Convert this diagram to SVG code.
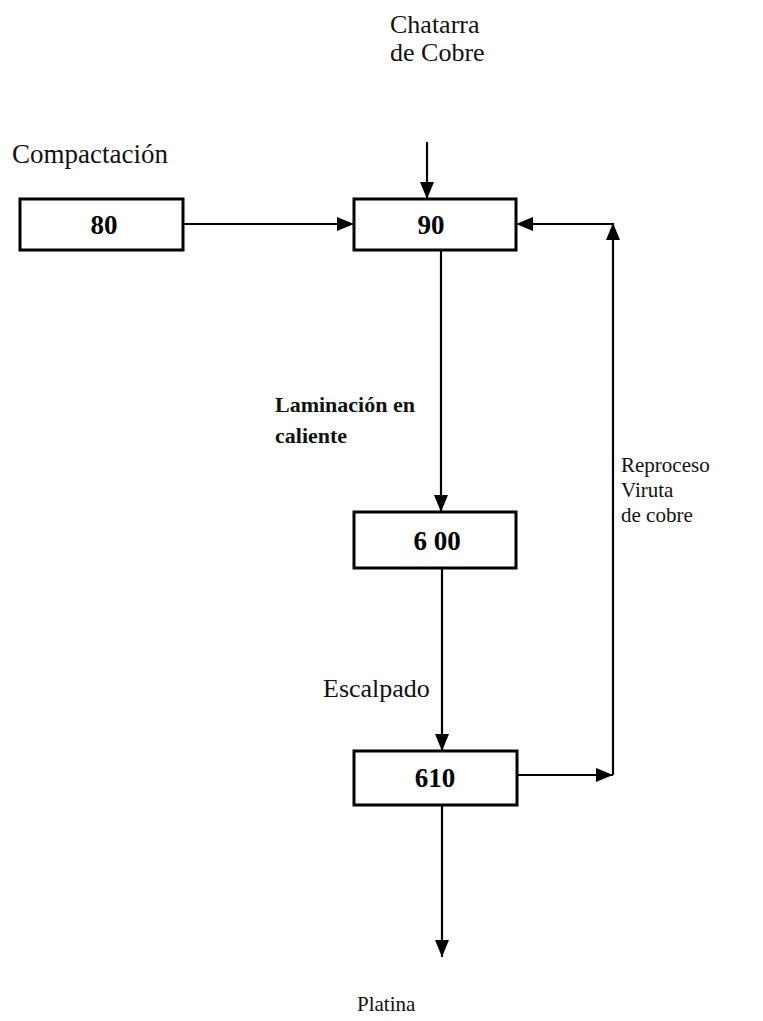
<svg xmlns="http://www.w3.org/2000/svg" width="763" height="1021" viewBox="0 0 763 1021">
<style>
.box{fill:#fff;stroke:#000;stroke-width:3}
.ln{fill:none;stroke:#000;stroke-width:2.2}
.lbl{font-family:"Liberation Serif","Times New Roman",serif;font-size:21px;fill:#111}
.big{font-size:26px}
.lblb{font-family:"Liberation Serif","Times New Roman",serif;font-size:22px;font-weight:bold;fill:#111}
.num{font-family:"Liberation Serif","Times New Roman",serif;font-size:27px;font-weight:bold;fill:#000;text-anchor:middle}
</style>
<defs>
<marker id="ah" viewBox="0 0 17 14" refX="17" refY="7" markerWidth="17" markerHeight="14" markerUnits="userSpaceOnUse" orient="auto">
<path d="M0,0 L17,7 L0,14 Z" fill="#000"/>
</marker>
</defs>
<rect width="763" height="1021" fill="#fff"/>
<g id="connectors">
<path class="ln" d="M427,142 V199" marker-end="url(#ah)"/>
<path class="ln" d="M183,224 H354" marker-end="url(#ah)"/>
<path class="ln" d="M441,250 V512" marker-end="url(#ah)"/>
<path class="ln" d="M442,568 V751" marker-end="url(#ah)"/>
<path class="ln" d="M517,775 H613" marker-end="url(#ah)"/>
<path class="ln" d="M613,775 V223" marker-end="url(#ah)"/>
<path class="ln" d="M613,224 H516" marker-end="url(#ah)"/>
<path class="ln" d="M442,805 V957" marker-end="url(#ah)"/>
</g>
<g id="n80"><rect class="box" x="20" y="199" width="163" height="51"/><text class="num" x="104" y="234">80</text></g>
<g id="n90"><rect class="box" x="354" y="199" width="162" height="51"/><text class="num" x="431" y="234">90</text></g>
<g id="n600"><rect class="box" x="354" y="512" width="162" height="56"/><text class="num" x="437" y="550">6 00</text></g>
<g id="n610"><rect class="box" x="354" y="751" width="163" height="54"/><text class="num" x="435" y="787">610</text></g>
<g id="labels">
<text class="lbl big" x="390" y="33">Chatarra</text>
<text class="lbl big" x="390" y="61">de Cobre</text>
<text class="lbl big" x="12" y="163" style="font-size:27px">Compactación</text>
<text class="lblb" x="275" y="412">Laminación en</text>
<text class="lblb" x="275" y="443">caliente</text>
<text class="lbl" x="621" y="472">Reproceso</text>
<text class="lbl" x="621" y="497">Viruta</text>
<text class="lbl" x="621" y="522">de cobre</text>
<text class="lbl big" x="323" y="697">Escalpado</text>
<text class="lbl" x="357" y="1011">Platina</text>
</g>
</svg>
